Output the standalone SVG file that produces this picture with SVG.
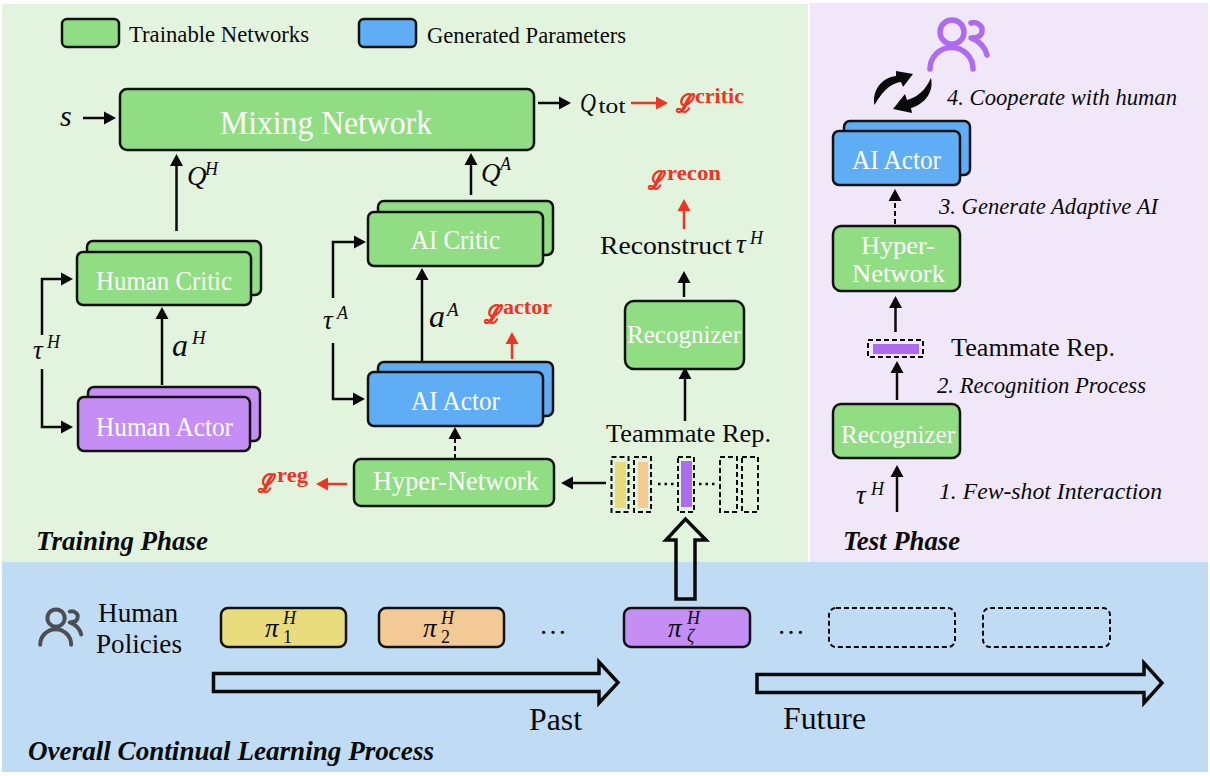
<svg xmlns="http://www.w3.org/2000/svg" xmlns:xlink="http://www.w3.org/1999/xlink" width="1210" height="776" viewBox="0 0 1210 776">
<style>
text{font-family:"Liberation Serif","Times New Roman",serif;fill:#0a0a0a}
.b{stroke:#111;stroke-width:2.5}
.g{fill:#90DD84}.bl{fill:#5FADF5}.p{fill:#C48EF5}
.w{fill:#fff}
.l{stroke:#0a0a0a;stroke-width:2.5;fill:none}
.r{stroke:#EE3524;stroke-width:2.5;fill:none}
.d{stroke:#0a0a0a;stroke-width:2;fill:none;stroke-dasharray:5 3}
.h{stroke:#0a0a0a;stroke-width:3.5;fill:none}
.m{font-style:italic}
.red{fill:#EE3524;font-weight:bold}
.sc{stroke:#EE3524;stroke-width:0.7}
.ph{font-style:italic;font-weight:bold;font-size:27px}
.st{font-style:italic;font-size:23px}
.ic{fill:none;stroke-width:5.5;stroke-linecap:round;stroke-linejoin:round}
</style>
<defs>
<marker id="a" markerUnits="userSpaceOnUse" markerWidth="14" markerHeight="15" refX="4" refY="7" orient="auto"><path d="M0,0.5 L12,7 L0,13.5Z" fill="#0a0a0a"/></marker>
<marker id="ar" markerUnits="userSpaceOnUse" markerWidth="14" markerHeight="15" refX="4" refY="7" orient="auto"><path d="M0,0.5 L12,7 L0,13.5Z" fill="#EE3524"/></marker>
<g id="person"><circle cx="952" cy="32" r="12"/><path d="M930,69 A21.5,21.5 0 0 1 973,69"/><path d="M971,23 C978,21 983,27 982,31 C982,36 977,38 971,38 C979,41 985,47 987,55"/></g>
</defs>

<rect id="panel-training" x="2" y="4" width="806" height="558" fill="#E3F4DE"/>
<rect id="panel-test" x="810" y="3" width="398" height="559" fill="#F0E8F9"/>
<rect id="panel-continual" x="2" y="562" width="1206" height="210" fill="#C0DBF4"/>

<g id="connectors">
<line class="l" x1="83" y1="118" x2="108" y2="118" marker-end="url(#a)"/>
<line class="l" x1="176.500" y1="231" x2="176.500" y2="162" marker-end="url(#a)"/>
<line class="l" x1="162" y1="385" x2="162" y2="315" marker-end="url(#a)"/>
<path class="l" d="M42,335 V279 H65" marker-end="url(#a)"/>
<path class="l" d="M42,369 V427 H65" marker-end="url(#a)"/>
<path class="l" d="M333,298 V242 H358" marker-end="url(#a)"/>
<path class="l" d="M333,343 V399 H357" marker-end="url(#a)"/>
<line class="l" x1="422" y1="371" x2="422" y2="276" marker-end="url(#a)"/>
<line class="l" x1="471" y1="195" x2="471" y2="161" marker-end="url(#a)"/>
<line class="l" x1="538" y1="103" x2="563" y2="103" marker-end="url(#a)"/>
<line class="r" x1="631" y1="103" x2="660" y2="103" marker-end="url(#ar)"/>
<line class="r" x1="684" y1="229" x2="684" y2="207" marker-end="url(#ar)"/>
<line class="l" x1="684" y1="297" x2="684" y2="279" marker-end="url(#a)"/>
<line class="l" x1="685" y1="421" x2="685" y2="375" marker-end="url(#a)"/>
<line class="r" x1="512" y1="359" x2="512" y2="340" marker-end="url(#ar)"/>
<line class="d" x1="455" y1="459" x2="455" y2="435" marker-end="url(#a)"/>
<line class="l" x1="606" y1="483" x2="569" y2="483" marker-end="url(#a)"/>
<line class="r" x1="347" y1="484" x2="324" y2="484" marker-end="url(#ar)"/>
<path class="h" d="M676,599 V540 H666 L685.500,519 L706,540 H695 V599 Z"/>
<path class="h" d="M213.500,673.500 H599 V662 L618,682.500 L599,703 V691.500 H213.500 Z"/>
<path class="h" d="M757,674.500 H1144 V663 L1162,683 L1144,703 V692.500 H757 Z"/>
<line class="d" x1="895" y1="224" x2="895" y2="197" marker-end="url(#a)"/>
<line class="l" x1="895.500" y1="332" x2="895.500" y2="304" marker-end="url(#a)"/>
<line class="l" x1="897" y1="400" x2="897" y2="369" marker-end="url(#a)"/>
<line class="l" x1="897" y1="512" x2="897" y2="473" marker-end="url(#a)"/>
<path d="M874.500,105 C872,92 880,78 896,76 L896,71 L913,74 L903,87 L901,82 C893,83 884,88 874.500,105Z" fill="#0a0a0a"/>
<path d="M931,78 C934,92 925,104 911,108 L912,113 L893,109 L905,94 L907,100 C917,97 925,91 931,78Z" fill="#0a0a0a"/>
</g>

<g id="legend-trainable"><rect class="g b" x="62" y="19" width="57" height="28" rx="5"/><text x="129" y="42" font-size="24" textLength="180" lengthAdjust="spacingAndGlyphs">Trainable Networks</text></g>
<g id="legend-generated"><rect class="bl b" x="359" y="19" width="57" height="28" rx="5"/><text x="427" y="43" font-size="24" textLength="199" lengthAdjust="spacingAndGlyphs">Generated Parameters</text></g>

<g id="mixing-network"><rect class="g b" x="120" y="89" width="414" height="61" rx="7"/><text class="w" x="220" y="134" font-size="33" textLength="212" lengthAdjust="spacingAndGlyphs">Mixing Network</text></g>
<g id="human-critic"><rect class="g b" x="87" y="241" width="174" height="54" rx="6"/><rect class="g b" x="77" y="252" width="174" height="53" rx="6"/><text class="w" x="96" y="290" font-size="27" textLength="136" lengthAdjust="spacingAndGlyphs">Human Critic</text></g>
<g id="human-actor"><rect class="p b" x="88" y="387" width="172" height="54" rx="6"/><rect class="p b" x="78" y="397" width="172" height="54" rx="6"/><text class="w" x="96" y="436" font-size="27" textLength="137" lengthAdjust="spacingAndGlyphs">Human Actor</text></g>
<g id="ai-critic"><rect class="g b" x="378" y="201" width="175" height="54" rx="6"/><rect class="g b" x="368" y="212" width="175" height="54" rx="6"/><text class="w" x="411" y="249" font-size="27" textLength="89" lengthAdjust="spacingAndGlyphs">AI Critic</text></g>
<g id="ai-actor"><rect class="bl b" x="378" y="362" width="175" height="54" rx="6"/><rect class="bl b" x="368" y="372" width="175" height="54" rx="6"/><text class="w" x="411" y="410" font-size="27" textLength="89" lengthAdjust="spacingAndGlyphs">AI Actor</text></g>
<g id="hyper-network"><rect class="g b" x="354" y="459" width="200" height="47" rx="7"/><text class="w" x="373" y="490" font-size="27" textLength="166" lengthAdjust="spacingAndGlyphs">Hyper-Network</text></g>
<g id="recognizer"><rect class="g b" x="625" y="301" width="119" height="68" rx="9"/><text class="w" x="627" y="343" font-size="26" textLength="114" lengthAdjust="spacingAndGlyphs">Recognizer</text></g>

<g id="teammate-rep">
<text x="606" y="442" font-size="26" textLength="165" lengthAdjust="spacingAndGlyphs">Teammate Rep.</text>
<rect x="615" y="462" width="11" height="46" fill="#E8DC7C"/><rect x="638" y="462" width="10" height="46" fill="#F3CA96"/><rect x="681" y="461" width="11" height="46" fill="#AE6BF0"/>
<g class="d"><rect x="611.500" y="457" width="17" height="55"/><rect x="634" y="457" width="17" height="55"/><rect x="678" y="457" width="16" height="55"/><rect x="720" y="457" width="17" height="55"/><rect x="742" y="457" width="16" height="55"/></g>
<path d="M658,484 H674 M699,484 H717" stroke="#0a0a0a" stroke-width="2.500" stroke-dasharray="2.500 4" fill="none"/>
</g>

<g id="math-labels">
<text class="m" x="60" y="126" font-size="30">s</text>
<text class="m" x="187" y="185" font-size="27">Q</text><text class="m" x="205" y="175" font-size="18">H</text>
<text class="m" x="481" y="182" font-size="27">Q</text><text class="m" x="500" y="170" font-size="18">A</text>
<text class="m" x="580" y="112" font-size="27" textLength="16" lengthAdjust="spacingAndGlyphs">Q</text><text x="598.500" y="113" font-size="22" textLength="27" lengthAdjust="spacingAndGlyphs">tot</text>
<text class="m" x="172" y="356" font-size="32">a</text><text class="m" x="192" y="344" font-size="19">H</text>
<text class="m" x="429" y="327" font-size="32">a</text><text class="m" x="447" y="316" font-size="19">A</text>
<text class="m" x="33" y="359" font-size="27">τ</text><text class="m" x="47" y="348" font-size="18">H</text>
<text class="m" x="323" y="329" font-size="27">τ</text><text class="m" x="337" y="319" font-size="18">A</text>
<text x="600" y="254" font-size="26" textLength="132" lengthAdjust="spacingAndGlyphs">Reconstruct</text><text class="m" x="736" y="253" font-size="27">τ</text><text class="m" x="750" y="244" font-size="18">H</text>
<text class="m red sc" x="676" y="112" font-size="25" textLength="16" lengthAdjust="spacingAndGlyphs">ℒ</text><text class="red" x="695" y="103" font-size="22" textLength="49" lengthAdjust="spacingAndGlyphs">critic</text>
<text class="m red sc" x="648" y="189" font-size="25" textLength="15" lengthAdjust="spacingAndGlyphs">ℒ</text><text class="red" x="667" y="180" font-size="22" textLength="54" lengthAdjust="spacingAndGlyphs">recon</text>
<text class="m red sc" x="484" y="323" font-size="25" textLength="16" lengthAdjust="spacingAndGlyphs">ℒ</text><text class="red" x="503" y="314" font-size="22" textLength="49" lengthAdjust="spacingAndGlyphs">actor</text>
<text class="m red sc" x="258" y="492" font-size="25" textLength="15" lengthAdjust="spacingAndGlyphs">ℒ</text><text class="red" x="277" y="482" font-size="22" textLength="31" lengthAdjust="spacingAndGlyphs">reg</text>
</g>
<text class="ph" x="36" y="550" textLength="172" lengthAdjust="spacingAndGlyphs">Training Phase</text>

<g id="icon-cooperate" class="ic" stroke="#AE6BF0"><use xlink:href="#person" href="#person"/></g>
<text class="st" x="947" y="105" textLength="230" lengthAdjust="spacingAndGlyphs">4. Cooperate with human</text>
<g id="test-ai-actor"><rect class="bl b" x="844" y="121" width="126" height="54" rx="6"/><rect class="bl b" x="833" y="131" width="127" height="54" rx="6"/><text class="w" x="852" y="169" font-size="27" textLength="89" lengthAdjust="spacingAndGlyphs">AI Actor</text></g>
<text class="st" x="939" y="214" textLength="219" lengthAdjust="spacingAndGlyphs">3. Generate Adaptive AI</text>
<g id="test-hyper-network"><rect class="g b" x="833" y="226" width="127" height="65" rx="8"/><text class="w" x="861" y="254" font-size="26" textLength="74" lengthAdjust="spacingAndGlyphs">Hyper-</text><text class="w" x="852" y="282" font-size="26" textLength="93" lengthAdjust="spacingAndGlyphs">Network</text></g>
<g id="test-teammate-rep"><rect x="873" y="344" width="46" height="10" fill="#AE6BF0"/><rect class="d" x="868" y="340" width="55" height="17"/><text x="951" y="356" font-size="26" textLength="164" lengthAdjust="spacingAndGlyphs">Teammate Rep.</text></g>
<text class="st" x="937" y="393" textLength="209" lengthAdjust="spacingAndGlyphs">2. Recognition Process</text>
<g id="test-recognizer"><rect class="g b" x="833" y="404" width="127" height="54" rx="8"/><text class="w" x="841" y="443" font-size="26" textLength="114" lengthAdjust="spacingAndGlyphs">Recognizer</text></g>
<text class="m" x="856" y="504" font-size="27">τ</text><text class="m" x="871" y="495" font-size="18">H</text>
<text class="st" x="939" y="499" textLength="223" lengthAdjust="spacingAndGlyphs">1. Few-shot Interaction</text>
<text class="ph" x="843" y="550" textLength="117" lengthAdjust="spacingAndGlyphs">Test Phase</text>

<g id="icon-human" class="ic" stroke="#4B4F55"><use xlink:href="#person" href="#person" transform="translate(-629.400,595) scale(0.72)"/></g>
<g id="human-policies-label"><text x="98" y="622" font-size="27" textLength="80" lengthAdjust="spacingAndGlyphs">Human</text><text x="96" y="653" font-size="27" textLength="86" lengthAdjust="spacingAndGlyphs">Policies</text></g>
<g id="policy-1"><rect x="221" y="608" width="125" height="39" rx="7" fill="#E8DC7C" class="b"/><text class="m" x="265" y="637" font-size="27">π</text><text class="m" x="283" y="624" font-size="18">H</text><text x="283" y="643" font-size="18">1</text></g>
<g id="policy-2"><rect x="379" y="608" width="125" height="39" rx="7" fill="#F3CA96" class="b"/><text class="m" x="423" y="637" font-size="27">π</text><text class="m" x="441" y="624" font-size="18">H</text><text x="441" y="643" font-size="18">2</text></g>
<text x="539" y="634" font-size="28">…</text>
<g id="policy-z"><rect x="624" y="608" width="126" height="39" rx="7" class="p b"/><text class="m" x="668" y="637" font-size="27">π</text><text class="m" x="687" y="624" font-size="18">H</text><text class="m" x="687" y="642" font-size="18">ζ</text></g>
<text x="777" y="634" font-size="28">…</text>
<g id="policy-future-1"><rect class="d" x="829" y="608" width="126" height="39" rx="7"/></g>
<g id="policy-future-2"><rect class="d" x="983" y="608" width="127" height="39" rx="7"/></g>
<text x="529" y="730" font-size="31" textLength="53" lengthAdjust="spacingAndGlyphs">Past</text>
<text x="783" y="729" font-size="31" textLength="83" lengthAdjust="spacingAndGlyphs">Future</text>
<text class="ph" x="28" y="760" textLength="406" lengthAdjust="spacingAndGlyphs">Overall Continual Learning Process</text>
</svg>
